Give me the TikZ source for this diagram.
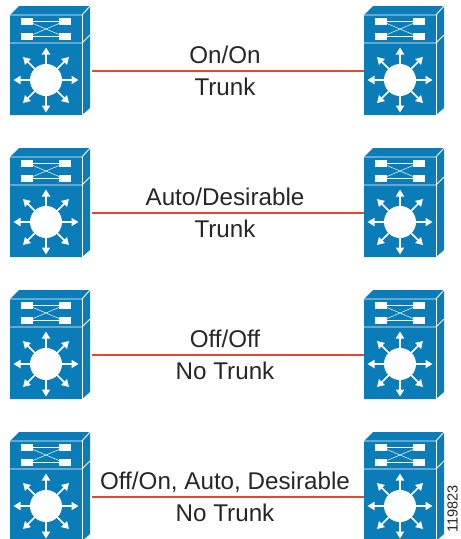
\documentclass[tikz,border=0pt]{standalone}
\usepackage{fontspec}
\setmainfont{Liberation Sans}
\usetikzlibrary{arrows.meta}
\definecolor{swblue}{HTML}{0A7DB8}
\definecolor{linkred}{HTML}{E2492F}
\tikzset{
  x=1pt,y=-1pt,
  anchorbox/.style={inner sep=0,outer sep=0,minimum width=81pt,minimum height=30pt},
  wire/.style={draw=white,line width=0.5pt},
  edgew/.style={draw=white,line width=0.9pt,line join=round},
  linkline/.style={draw=linkred,line width=1.9pt},
  lab/.style={font=\fontsize{24.2pt}{26pt}\selectfont,text=black!85,inner sep=0,anchor=base},
  arr/.style={draw=white,line width=1.7pt,-{Triangle[width=8pt,length=7pt]}},
  pics/switch/.style={code={
    \fill[swblue] (0,9) -- (9,0) -- (80,0) -- (80,102) -- (72,109) -- (0,109) -- cycle;
    \draw[edgew] (0,9) -- (72,9) -- (80,0);
    \draw[edgew] (0,37) -- (72,37) -- (80,29);
    \draw[edgew] (72,9) -- (72,109);
    \fill[white] (11,12) rectangle (23,19);
    \fill[white] (49,12) rectangle (61,19);
    \fill[white] (11,27) rectangle (23,34);
    \fill[white] (49,27) rectangle (61,34);
    \draw[wire] (23,15.5) -- (49,15.5);
    \draw[wire] (23,30.5) -- (49,30.5);
    \draw[wire] (23,17.5) -- (49,28.5);
    \draw[wire] (23,28.5) -- (49,17.5);
    \fill[white] (36,74) circle (16);
    \foreach \a in {0,45,...,315}
      \draw[arr] (36,74) ++(\a:14) -- ++(\a:18.5);
  }}
}
\begin{document}
\begin{tikzpicture}
\useasboundingbox (0,0) rectangle (461,539);
\foreach \n/\y/\top/\bot in {1/71/On\slash On/Trunk,2/213/Auto\slash Desirable/Trunk,3/355/Off\slash Off/No Trunk,4/497/{Off/On, Auto, Desirable}/No Trunk}{
  \pgfmathsetmacro{\t}{\y-65}
  \pic at (10,\t) {switch};
  \pic at (364,\t) {switch};
  \node[anchorbox] (L\n) at (51,\y) {};
  \node[anchorbox] (R\n) at (404,\y) {};
  \draw[linkline] (L\n.east) -- (R\n.west);
  \node[lab] (T\n) at (225,\y-8) {\top};
  \node[lab] (B\n) at (225,\y+24) {\bot};
}
\node[rotate=90,font=\fontsize{14.6pt}{16pt}\selectfont,inner sep=0,text=black!85,anchor=base] (id) at (457.5,509) {119823};
\end{tikzpicture}
\end{document}
